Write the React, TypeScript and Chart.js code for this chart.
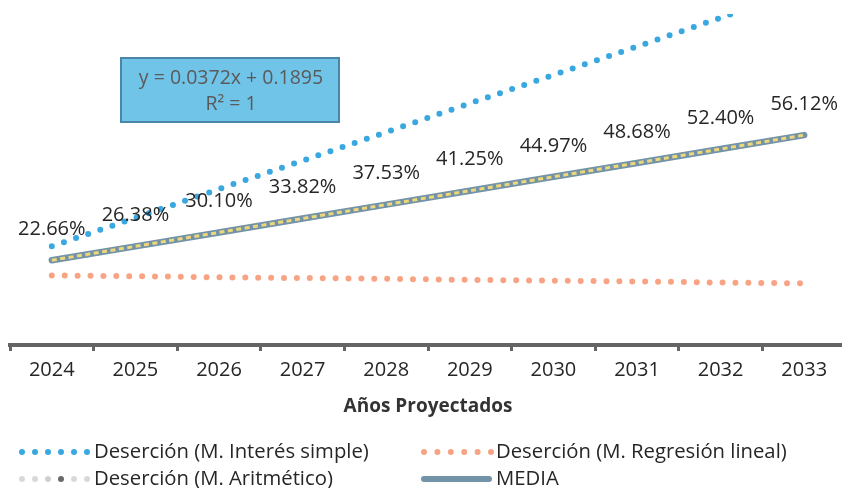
import React, { useEffect, useRef } from 'react';
import { Chart, registerables } from 'chart.js';

Chart.register(...registerables);

const years = ['2024', '2025', '2026', '2027', '2028', '2029', '2030', '2031', '2032', '2033'];
const interesSimple = [26.4, 34.0, 41.7, 49.3, 56.9, 64.6, 72.2, 79.8, 87.5, 95.1];
const regresionLineal = [18.6, 18.4, 18.1, 17.9, 17.7, 17.4, 17.2, 17.0, 16.7, 16.5];
const aritmetico = [22.66, 26.38, 30.10, 33.82, 37.53, 41.25, 44.97, 48.68, 52.40, 56.12];
const media = [22.66, 26.38, 30.10, 33.82, 37.53, 41.25, 44.97, 48.68, 52.40, 56.12];
const seriesNames = [
  'Deserción (M. Interés simple)',
  'Deserción (M. Regresión lineal)',
  'Deserción (M. Aritmético)',
  'MEDIA',
];
const equationLines = ['y = 0.0372x + 0.1895', 'R² = 1'];
const axisTitle = 'Años Proyectados';

const FONT = '"Open Sans", "Noto Sans", sans-serif';
const BLUE = '#3aa8e0';
const ORANGE = '#f8a484';
const MEDIA_COLOR = '#7393a8';
const ARIT_COLOR = '#eed77a';

const valueLabels = {
  id: 'valueLabels',
  afterDatasetsDraw(chart: any) {
    const meta = chart.getDatasetMeta(2);
    const ctx = chart.ctx;
    ctx.save();
    ctx.font = `20px ${FONT}`;
    ctx.fillStyle = '#262626';
    ctx.textAlign = 'center';
    ctx.textBaseline = 'middle';
    meta.data.forEach((pt: any, i: number) => {
      ctx.fillText(aritmetico[i].toFixed(2) + '%', pt.x, pt.y - 31);
    });
    ctx.restore();
  },
};

const equationBox = {
  id: 'equationBox',
  afterDraw(chart: any) {
    const ctx = chart.ctx;
    ctx.save();
    ctx.fillStyle = '#70c4e8';
    ctx.strokeStyle = '#4a85aa';
    ctx.lineWidth = 2;
    ctx.fillRect(121, 58, 218, 64);
    ctx.strokeRect(121, 58, 218, 64);
    ctx.fillStyle = '#5a5a5a';
    ctx.font = `19.5px ${FONT}`;
    ctx.textAlign = 'center';
    ctx.textBaseline = 'middle';
    ctx.fillText(equationLines[0], 231, 78);
    ctx.fillText(equationLines[1], 231, 104);
    ctx.restore();
  },
};

function dots(ctx: any, x0: number, x1: number, y: number, colors: string[], r: number) {
  const n = colors.length;
  for (let i = 0; i < n; i++) {
    const x = x0 + ((x1 - x0) * i) / (n - 1);
    ctx.beginPath();
    ctx.fillStyle = colors[i];
    ctx.arc(x, y, r, 0, Math.PI * 2);
    ctx.fill();
  }
}

const customLegend = {
  id: 'customLegend',
  afterDraw(chart: any) {
    const ctx = chart.ctx;
    ctx.save();
    const row1 = 452;
    const row2 = 479;
    dots(ctx, 22, 87, row1, Array(6).fill(BLUE), 3);
    dots(ctx, 424, 491, row1, Array(6).fill(ORANGE), 3);
    dots(ctx, 22, 87, row2, ['#d9d9d9', '#d9d9d9', '#d0d0d0', '#6a6a6a', '#d9d9d9', '#d9d9d9'], 3);
    ctx.strokeStyle = MEDIA_COLOR;
    ctx.lineWidth = 6;
    ctx.lineCap = 'round';
    ctx.beginPath();
    ctx.moveTo(424, row2);
    ctx.lineTo(489, row2);
    ctx.stroke();
    ctx.fillStyle = '#262626';
    ctx.font = `20.3px ${FONT}`;
    ctx.textAlign = 'left';
    ctx.textBaseline = 'middle';
    ctx.fillText(seriesNames[0], 94, row1);
    ctx.fillText(seriesNames[1], 496, row1);
    ctx.fillText(seriesNames[2], 94, row2);
    ctx.fillText(seriesNames[3], 496, row2);
    ctx.restore();
  },
};

export default function App() {
  const ref = useRef<HTMLCanvasElement>(null);
  useEffect(() => {
    if (!ref.current) return;
    const chart = new Chart(ref.current, {
      type: 'line',
      data: {
        labels: years,
        datasets: [
          {
            label: seriesNames[0],
            data: interesSimple,
            borderColor: BLUE,
            borderWidth: 6,
            borderDash: [0, 12.8],
            borderCapStyle: 'round',
            pointRadius: 0,
            tension: 0,
            order: 3,
          },
          {
            label: seriesNames[1],
            data: regresionLineal,
            borderColor: ORANGE,
            borderWidth: 6,
            borderDash: [0, 12.9],
            borderCapStyle: 'round',
            pointRadius: 0,
            tension: 0,
            order: 4,
          },
          {
            label: seriesNames[2],
            data: aritmetico,
            borderColor: ARIT_COLOR,
            borderWidth: 3,
            borderDash: [5, 3.5],
            pointRadius: 0,
            tension: 0,
            order: 1,
          },
          {
            label: seriesNames[3],
            data: media,
            borderColor: MEDIA_COLOR,
            borderWidth: 6.5,
            borderCapStyle: 'round',
            pointRadius: 0,
            tension: 0,
            order: 2,
          },
        ],
      },
      options: {
        animation: false,
        responsive: false,
        maintainAspectRatio: false,
        layout: { padding: { left: 10, right: 4, top: 14, bottom: 0 } },
        plugins: {
          legend: { display: false },
          tooltip: { enabled: false },
        },
        scales: {
          x: {
            offset: true,
            afterFit(scale: any) {
              scale.height = 143;
            },
            grid: {
              offset: true,
              drawOnChartArea: false,
              drawTicks: true,
              tickLength: 6,
              color: '#646464',
              lineWidth: 3,
            },
            border: { display: true, color: '#646464', width: 4 },
            ticks: {
              color: '#262626',
              padding: 7,
              font: { family: FONT, size: 20 },
              maxRotation: 0,
            },
            title: {
              display: true,
              text: axisTitle,
              color: '#333333',
              font: { family: FONT, size: 19, weight: 'bold' },
              padding: { top: 0, bottom: 70 },
            },
          },
          y: {
            display: false,
            min: 0,
            max: 88.5,
          },
        },
      },
      plugins: [valueLabels, equationBox, customLegend],
    });
    return () => chart.destroy();
  }, []);
  return (
    <div style={{ position: 'fixed', left: 0, top: 0, width: 842, height: 488, overflow: 'hidden', background: '#fff' }}>
      <canvas ref={ref} width={850} height={488} style={{ width: 850, height: 488, display: 'block' }} />
    </div>
  );
}
